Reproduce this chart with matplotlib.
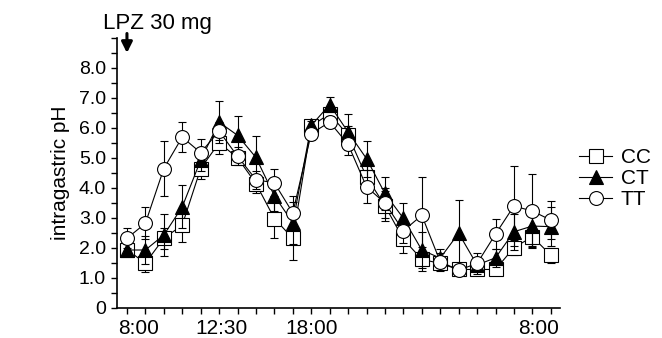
import numpy as np
import matplotlib
matplotlib.use("Agg")
import matplotlib.pyplot as plt

plt.rcParams['font.family'] = ['Liberation Sans', 'DejaVu Sans']

# Valeurs (pH intragastrique moyen, barres d'erreur)
hours = np.arange(24)
cc = [1.93, 1.48, 2.31, 2.75, 4.64, 5.50, 5.00, 4.14, 2.97, 2.31, 6.06, 6.47,
      5.75, 4.36, 3.40, 2.28, 1.61, 1.47, 1.27, 1.27, 1.27, 2.00, 2.36, 1.75]
cc_err = [0.2, 0.3, 0.35, 0.55, 0.35, 0.38, 0.2, 0.3, 0.66, 0.73, 0.2, 0.25,
          0.3, 0.4, 0.5, 0.45, 0.4, 0.2, 0.15, 0.15, 0.2, 0.25, 0.35, 0.25]
ct = [1.92, 1.92, 2.42, 3.36, 4.92, 6.19, 5.75, 5.01, 3.73, 2.83, 6.08, 6.77,
      5.86, 4.97, 3.81, 2.98, 1.92, 1.65, 2.48, 1.42, 1.66, 2.53, 2.72, 2.70]
ct_err = [0.2, 0.46, 0.7, 0.72, 0.35, 0.69, 0.63, 0.71, 0.5, 0.7, 0.15, 0.25,
          0.6, 0.6, 0.55, 0.5, 0.6, 0.3, 1.1, 0.15, 0.3, 0.6, 0.65, 0.65]
tt = [2.31, 2.81, 4.64, 5.69, 5.17, 5.89, 5.05, 4.27, 4.16, 3.16, 5.81, 6.19,
      5.45, 4.03, 3.49, 2.56, 3.08, 1.53, 1.25, 1.47, 2.45, 3.39, 3.22, 2.92]
tt_err = [0.33, 0.53, 0.92, 0.49, 0.45, 0.3, 0.3, 0.3, 0.45, 0.55, 0.2, 0.2,
          0.37, 0.55, 0.5, 0.4, 1.28, 0.3, 0.15, 0.35, 0.5, 1.34, 1.23, 0.64]

time_label_pos = [0.65, 5.15, 10.0, 22.35]
time_labels = ['8:00', '12:30', '18:00', '8:00']
ytick_vals = np.arange(0, 10)
ytick_labels = ['0', '1.0', '2.0', '3.0', '4.0', '5.0', '6.0', '7.0', '8.0', '']

fig = plt.figure(figsize=(6.62, 3.38), dpi=100)
ax = fig.add_axes([117 / 662, 30.5 / 338, 443 / 662, 269.5 / 338])

series = [
    (cc, cc_err, 's', 10.5, 'CC'),
    (ct, ct_err, '^', 9.5, 'CT'),
    (tt, tt_err, 'o', 10, 'TT'),
]
handles = []
for i, (vals, err, mk, ms, lab) in enumerate(series):
    face = 'black' if mk == '^' else 'white'
    ax.errorbar(hours, vals, yerr=err, fmt='none', ecolor='black',
                elinewidth=0.8, capsize=3, capthick=0.8, zorder=2 + 2 * i)
    h, = ax.plot(hours, vals, color='black', lw=0.8, marker=mk, ms=ms,
                 mfc=face, mec='black', mew=0.8, label=lab, zorder=3 + 2 * i)
    handles.append(h)

ax.set_xlim(-0.54, 23.5)
ax.set_ylim(0, 9)

ax.xaxis.remove_overlapping_locs = False
ax.set_xticks(hours)
ax.set_xticklabels([])
ax.set_xticks(time_label_pos, time_labels, minor=True)
ax.tick_params(axis='x', which='major', direction='out', length=4, width=1)
ax.tick_params(axis='x', which='minor', length=0, pad=8, labelsize=15)

ax.set_yticks(ytick_vals, ytick_labels)
ax.set_yticks(np.arange(0.5, 9, 1), minor=True)
ax.tick_params(axis='y', which='both', direction='out', length=4, width=1,
               labelsize=14, pad=4)

ax.set_ylabel('intragastric pH', fontsize=15, labelpad=6)

for side in ['top', 'right']:
    ax.spines[side].set_visible(False)
for side in ['left', 'bottom']:
    ax.spines[side].set_linewidth(1.2)

# Flèche de prise du médicament
ax.annotate('', xy=(0, 8.5), xytext=(0, 9.15), annotation_clip=False,
            arrowprops=dict(arrowstyle='-|>', color='black', lw=2.2,
                            mutation_scale=16, shrinkA=0, shrinkB=0))
fig.text(103 / 662, 1 - 23 / 338, 'LPZ 30 mg', fontsize=16, va='center',
         ha='left')

fig.legend(handles=handles, loc='upper left',
           bbox_to_anchor=(579 / 662, 1 - 148 / 338), frameon=False,
           fontsize=15, handlelength=1.6, handletextpad=0.4,
           labelspacing=0.1, borderpad=0, borderaxespad=0)

fig.savefig('out.png', dpi=100)
